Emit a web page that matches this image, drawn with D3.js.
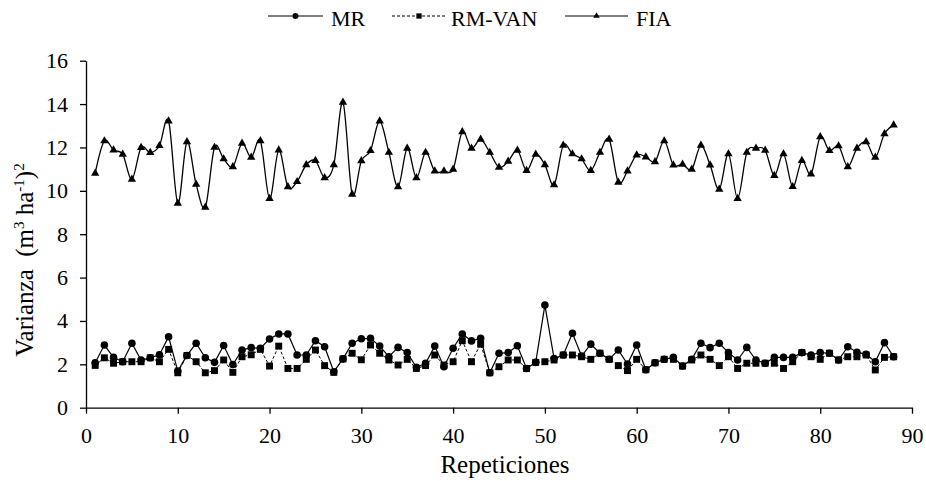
<!DOCTYPE html>
<html>
<head>
<meta charset="utf-8">
<script src="https://cdn.jsdelivr.net/npm/d3@7"></script>
<style>
  body { margin: 0; background: #fff; }
</style>
</head>
<body>
<svg id="chart" width="926" height="481"></svg>
<script>
// x categories: repetitions 1..88
const reps = d3.range(1, 89);

const fiaValues = [
  10.81, 12.30, 11.88, 11.68, 10.53, 11.99, 11.76, 12.08, 13.22, 9.42,
  12.26, 10.30, 9.24, 12.00, 11.47, 11.11, 12.19, 11.54, 12.31, 9.64,
  11.88, 10.18, 10.42, 11.20, 11.39, 10.60, 11.20, 14.08, 9.84, 11.38,
  11.85, 13.22, 11.77, 10.18, 11.96, 10.60, 11.77, 10.91, 10.91, 10.99,
  12.72, 11.96, 12.37, 11.77, 11.08, 11.36, 11.87, 10.93, 11.68, 11.20,
  10.27, 12.10, 11.70, 11.47, 10.93, 11.77, 12.37, 10.39, 10.91, 11.65,
  11.56, 11.34, 12.30, 11.19, 11.22, 10.99, 12.10, 11.19, 10.07, 11.70,
  9.64, 11.77, 11.96, 11.87, 10.70, 11.70, 10.19, 11.39, 10.77, 12.49,
  11.85, 12.07, 11.11, 11.96, 12.26, 11.54, 12.63, 13.03
];

const mrValues = [
  2.07, 2.89, 2.32, 2.12, 2.97, 2.20, 2.30, 2.44, 3.27, 1.69,
  2.41, 2.97, 2.30, 2.09, 2.87, 1.99, 2.66, 2.77, 2.74, 3.17,
  3.40, 3.40, 2.43, 2.43, 3.09, 2.81, 1.66, 2.25, 2.97, 3.18,
  3.20, 2.84, 2.35, 2.78, 2.54, 1.86, 2.05, 2.84, 1.89, 2.74,
  3.40, 3.08, 3.20, 1.61, 2.51, 2.54, 2.86, 1.81, 2.09, 4.73,
  2.27, 2.43, 3.43, 2.38, 2.93, 2.51, 2.23, 2.66, 2.01, 2.89,
  1.75, 2.07, 2.23, 2.32, 1.92, 2.23, 2.97, 2.77, 2.97, 2.54,
  2.20, 2.78, 2.20, 2.05, 2.32, 2.32, 2.32, 2.54, 2.43, 2.54,
  2.51, 2.20, 2.81, 2.56, 2.46, 2.12, 3.00, 2.35
];

const rmVanValues = [
  1.95, 2.30, 2.05, 2.12, 2.12, 2.12, 2.30, 2.12, 2.69, 1.61,
  2.41, 2.12, 1.61, 1.71, 2.20, 1.63, 2.35, 2.44, 2.69, 1.92,
  2.84, 1.81, 1.81, 2.23, 2.66, 1.94, 1.63, 2.25, 2.51, 2.21,
  2.89, 2.51, 2.20, 1.97, 2.23, 1.81, 1.94, 2.43, 1.97, 2.12,
  3.09, 2.12, 2.93, 1.61, 1.89, 2.20, 2.20, 1.81, 2.09, 2.12,
  2.20, 2.43, 2.43, 2.35, 2.23, 2.51, 2.23, 1.94, 1.71, 2.23,
  1.75, 2.07, 2.23, 2.23, 1.92, 2.20, 2.43, 2.23, 1.94, 2.35,
  1.81, 2.05, 2.05, 2.05, 2.05, 1.81, 2.12, 2.54, 2.35, 2.23,
  2.51, 2.20, 2.35, 2.35, 2.43, 1.74, 2.32, 2.35
];

const xTicks = d3.range(0, 91, 10);
const yTicks = d3.range(0, 17, 2);

const serif = 'Liberation Serif';

const svg = d3.select('#chart').attr('font-family', serif);

const x = d3.scaleLinear().domain([0, 90]).range([86, 912]);
const y = d3.scaleLinear().domain([0, 16]).range([407.7, 60.7]);

// axes
function styleAxis(g) {
  g.attr('font-family', serif).attr('font-size', 22);
  g.selectAll('text').attr('fill', '#000');
  g.selectAll('path, line').attr('stroke', '#000').attr('stroke-width', 1.3);
}

svg.append('g')
  .attr('transform', `translate(0,${y(0)})`)
  .call(d3.axisBottom(x).tickValues(xTicks).tickSize(6).tickSizeOuter(0).tickPadding(14))
  .call(styleAxis);

svg.append('g')
  .attr('transform', `translate(${x(0)},0)`)
  .call(d3.axisLeft(y).tickValues(yTicks).tickSize(6).tickSizeOuter(0).tickPadding(12))
  .call(styleAxis);

// axis titles
svg.append('text')
  .attr('x', 505)
  .attr('y', 473)
  .attr('text-anchor', 'middle')
  .attr('font-family', serif)
  .attr('font-size', 25)
  .text('Repeticiones');

const yTitle = svg.append('text')
  .attr('transform', 'translate(33,260) rotate(-90)')
  .attr('text-anchor', 'middle')
  .attr('font-family', serif)
  .attr('font-size', 25);
yTitle.append('tspan').text('Varianza\u00a0\u00a0(m');
yTitle.append('tspan').attr('dy', -9).attr('font-size', 15).text('3');
yTitle.append('tspan').attr('dy', 9).text(' ha');
yTitle.append('tspan').attr('dy', -9).attr('font-size', 15).text('-1');
yTitle.append('tspan').attr('dy', 9).text(')');
yTitle.append('tspan').attr('dy', -9).attr('font-size', 15).text('2');

// series
const series = [
  { name: 'MR', values: mrValues, curve: d3.curveLinear, dash: null, width: 1.2, marker: 'circle' },
  { name: 'RM-VAN', values: rmVanValues, curve: d3.curveLinear, dash: '3,2', width: 1, marker: 'square' },
  { name: 'FIA', values: fiaValues, curve: d3.curveCatmullRom.alpha(0), dash: null, width: 1.3, marker: 'triangle' }
];

const symbolFor = {
  circle: d3.symbol().type(d3.symbolCircle).size(45),
  square: d3.symbol().type(d3.symbolSquare).size(48),
  triangle: d3.symbol().type(d3.symbolTriangle).size(30)
};

series.forEach(s => {
  const pts = reps.map((r, i) => [r, s.values[i]]);
  const line = d3.line()
    .x(d => x(d[0]))
    .y(d => y(d[1]))
    .curve(s.curve);

  svg.append('path')
    .datum(pts)
    .attr('fill', 'none')
    .attr('stroke', '#000')
    .attr('stroke-width', s.width)
    .attr('stroke-dasharray', s.dash)
    .attr('d', line);

  svg.append('g')
    .selectAll('path')
    .data(pts)
    .enter()
    .append('path')
    .attr('d', symbolFor[s.marker])
    .attr('transform', d => `translate(${x(d[0])},${y(d[1])})`)
    .attr('fill', '#000');
});

// legend
const legendItems = [
  { s: series[0], x1: 268, x2: 323, tx: 331 },
  { s: series[1], x1: 392, x2: 446, tx: 451 },
  { s: series[2], x1: 565, x2: 628, tx: 636 }
];
const legendSym = {
  circle: d3.symbol().type(d3.symbolCircle).size(28),
  square: d3.symbol().type(d3.symbolSquare).size(28),
  triangle: d3.symbol().type(d3.symbolTriangle).size(18)
};
const legend = svg.append('g');
legendItems.forEach(item => {
  legend.append('line')
    .attr('x1', item.x1).attr('x2', item.x2)
    .attr('y1', 16).attr('y2', 16)
    .attr('stroke', '#000')
    .attr('stroke-width', 1)
    .attr('stroke-dasharray', item.s.dash);
  legend.append('path')
    .attr('d', legendSym[item.s.marker])
    .attr('transform', `translate(${(item.x1 + item.x2) / 2},16)`)
    .attr('fill', '#000');
  legend.append('text')
    .attr('x', item.tx)
    .attr('y', 26)
    .attr('font-family', serif)
    .attr('font-size', 22)
    .text(item.s.name);
});
</script>
</body>
</html>
